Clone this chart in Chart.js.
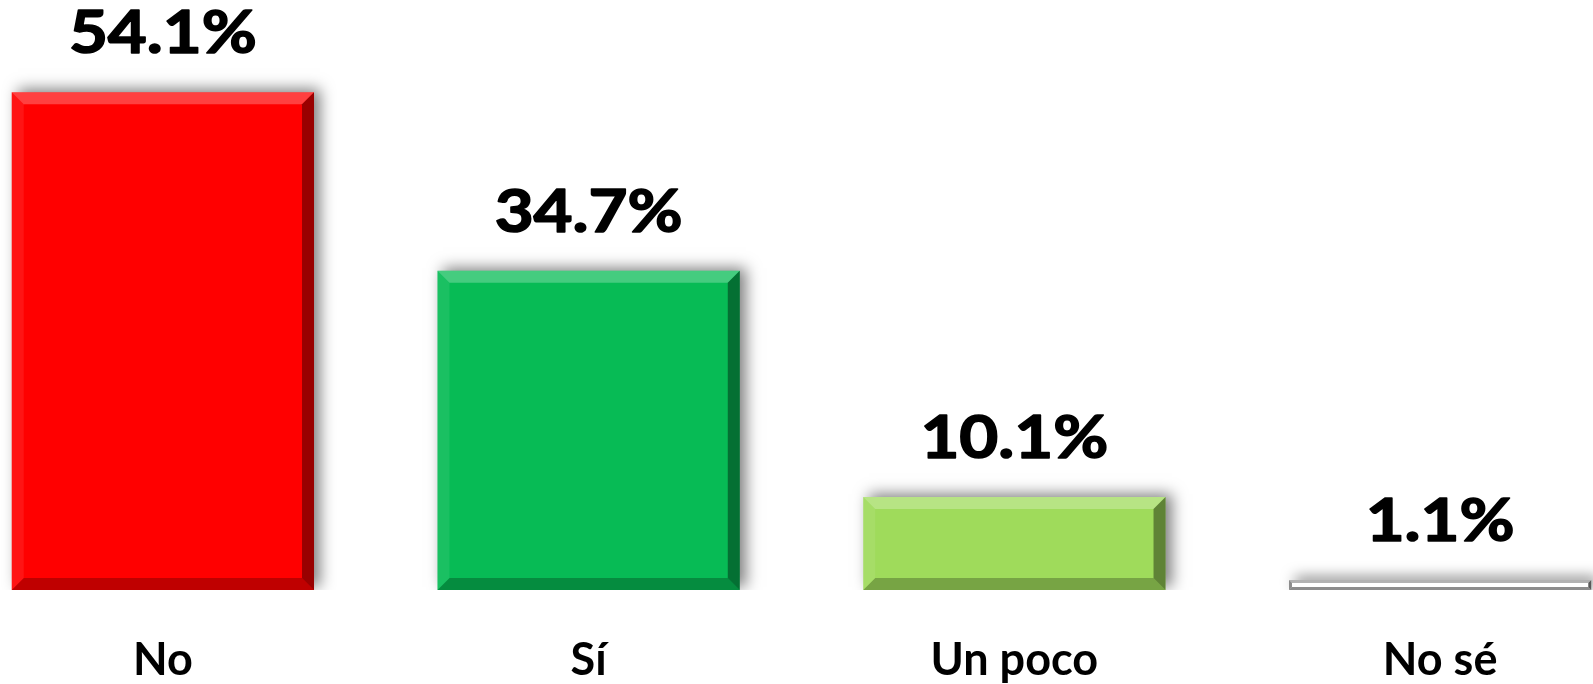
<!DOCTYPE html>
<html>
<head>
<meta charset="utf-8">
<script src="https://cdn.jsdelivr.net/npm/chart.js@4.4.1/dist/chart.umd.min.js"></script>
<style>
    html, body { margin: 0; padding: 0; background: #ffffff; overflow: hidden; }
    #wrap { position: absolute; left: -50px; top: 0; width: 1703px; height: 684px; }
</style>
</head>
<body>
<div id="wrap"><canvas id="encuestaChart" width="1703" height="684"></canvas></div>
<script>
const categorias = ['No', 'Sí', 'Un poco', 'No sé'];
const porcentajes = [54.1, 34.7, 10.1, 1.1];
const coloresBarras = ['#ff0000', '#07bb55', '#9fdb5b', '#ffffff'];

const fuente = "'Lato', 'Open Sans', sans-serif";

// sombra detras de las barras
const sombraPlugin = {
    id: 'sombra',
    beforeDatasetsDraw: function(chart) {
        const ctx = chart.ctx;
        ctx.save();
        ctx.shadowColor = 'rgba(0,0,0,0.5)';
        ctx.shadowBlur = 14;
        ctx.shadowOffsetX = 6;
        ctx.shadowOffsetY = -3;
    },
    afterDatasetsDraw: function(chart) {
        chart.ctx.restore();
    }
};

// bisel y etiquetas de valor
const biselPlugin = {
    id: 'bisel',
    afterDatasetsDraw: function(chart) {
        const ctx = chart.ctx;
        const meta = chart.getDatasetMeta(0);
        meta.data.forEach(function(bar, i) {
            const l = bar.x - bar.width / 2;
            const r = bar.x + bar.width / 2;
            const t = bar.y;
            const btm = bar.base;
            const esBlanca = i === 3;
            const b = esBlanca ? 3 : 12;

            function poly(pts, color) {
                ctx.beginPath();
                ctx.moveTo(pts[0][0], pts[0][1]);
                for (let k = 1; k < pts.length; k++) ctx.lineTo(pts[k][0], pts[k][1]);
                ctx.closePath();
                ctx.fillStyle = color;
                ctx.fill();
            }
            ctx.save();
            poly([[l, t], [r, t], [r - b, t + b], [l + b, t + b]], esBlanca ? 'rgba(0,0,0,0.3)' : 'rgba(255,255,255,0.25)');
            poly([[l, btm], [r, btm], [r - b, btm - b], [l + b, btm - b]], esBlanca ? 'rgba(0,0,0,0.45)' : 'rgba(0,0,0,0.25)');
            poly([[l, t], [l + b, t + b], [l + b, btm - b], [l, btm]], esBlanca ? 'rgba(0,0,0,0.45)' : 'rgba(255,255,255,0.08)');
            poly([[r, t], [r - b, t + b], [r - b, btm - b], [r, btm]], esBlanca ? 'rgba(0,0,0,0.65)' : 'rgba(0,0,0,0.4)');
            ctx.restore();

            ctx.save();
            ctx.translate(bar.x, t - 39);
            ctx.scale(1.12, 1);
            ctx.font = 'bold 60px ' + fuente;
            ctx.fillStyle = '#000000';
            ctx.strokeStyle = '#000000';
            ctx.lineWidth = 1.6;
            ctx.lineJoin = 'round';
            ctx.textAlign = 'center';
            ctx.textBaseline = 'alphabetic';
            const texto = porcentajes[i].toFixed(1) + '%';
            ctx.fillText(texto, 0, 0);
            ctx.strokeText(texto, 0, 0);
            ctx.restore();
        });
    }
};

const ctx = document.getElementById('encuestaChart').getContext('2d');
const encuestaChart = new Chart(ctx, {
    type: 'bar',
    data: {
        labels: categorias,
        datasets: [{
            data: porcentajes,
            backgroundColor: coloresBarras,
            borderWidth: 0,
            barPercentage: 0.71,
            categoryPercentage: 1.0
        }]
    },
    options: {
        responsive: false,
        animation: false,
        layout: { padding: { top: 38, left: 0, right: 0, bottom: 0 } },
        plugins: {
            legend: { display: false },
            tooltip: { enabled: false }
        },
        scales: {
            x: {
                grid: { display: false, drawTicks: false },
                border: { display: false },
                ticks: {
                    color: '#000000',
                    padding: 43,
                    font: { family: fuente, size: 45, weight: 'bold' }
                },
                afterFit: function(scale) { scale.height = 94; }
            },
            y: {
                display: false,
                min: 0,
                max: 60
            }
        }
    },
    plugins: [sombraPlugin, biselPlugin]
});
</script>
</body>
</html>
